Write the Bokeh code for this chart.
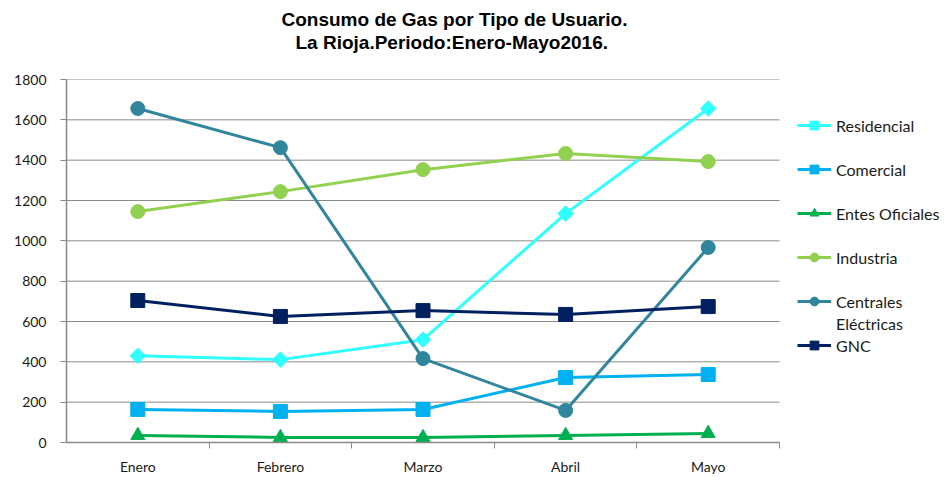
import math
from bokeh.plotting import figure
from bokeh.models import Legend, LegendItem, Title, FixedTicker, Range1d
from bokeh.embed import file_html
from bokeh.resources import INLINE

months = ["Enero", "Febrero", "Marzo", "Abril", "Mayo"]
residencial = [430, 411, 510, 1135, 1656]
comercial = [164, 154, 164, 322, 337]
entes = [35, 25, 25, 35, 45]
industria = [1145, 1244, 1353, 1433, 1393]
centrales = [1656, 1462, 416, 159, 967]
gnc = [704, 625, 654, 635, 674]
y_ticks = list(range(0, 1801, 200))

x = list(range(1, len(months) + 1))
x_start, x_end = 0.5, len(months) + 0.5

# layout (pixels): the category area is 713 px wide, the frame runs on to the
# right edge so that the legend can sit inside it
W, H, LEFT, TOP, BOTTOM = 950, 477, 66, 79, 35
CAT_PX = 713
view_end = x_start + (x_end - x_start) * (W - LEFT) / CAT_PX

p = figure(width=W, height=H, output_backend="svg", toolbar_location=None,
           x_range=Range1d(x_start, view_end), y_range=Range1d(0, 1800),
           min_border_left=LEFT, min_border_right=0, min_border_top=TOP,
           min_border_bottom=BOTTOM, background_fill_color="white",
           border_fill_color="white", outline_line_color=None)

GRAY = "#898989"
FONT = "Lato"

# titles; a blank spacer title (added first, so nearest the frame) keeps them up
p.title.text = "Consumo de Gas por Tipo de Usuario."
p.title.text_font = "Liberation Sans"
p.title.text_font_style = "bold"
p.title.text_font_size = "19px"
p.title.text_color = "black"
p.title.align = "left"
p.title.offset = 215
p.title.standoff = 0
spacer = Title(text=" ", text_font_size="1px", standoff=24)
p.add_layout(spacer, "above")
t2 = Title(text="La Rioja.Periodo:Enero-Mayo2016.", text_font="Liberation Sans",
           text_font_style="bold", text_font_size="19px", text_color="black",
           align="left", offset=229, standoff=0)
p.add_layout(t2, "above")

# axes
p.xaxis.ticker = FixedTicker(ticks=x, minor_ticks=[v + 0.5 for v in x])
p.xaxis.major_label_overrides = {v: m for v, m in zip(x, months)}
p.xaxis.bounds = (x_start, x_end)
p.xaxis.major_tick_line_color = None
p.xaxis.major_tick_out = 0
p.xaxis.minor_tick_out = 6
p.xaxis.minor_tick_in = 0
p.xaxis.minor_tick_line_color = GRAY
p.xaxis.major_label_standoff = 9
p.yaxis.ticker = FixedTicker(ticks=y_ticks)
p.yaxis.minor_tick_line_color = None
p.yaxis.major_tick_out = 6
p.yaxis.major_tick_in = 0
p.yaxis.major_tick_line_color = GRAY
p.yaxis.major_label_standoff = 14
for ax in (p.xaxis, p.yaxis):
    ax.axis_line_color = GRAY
    ax.axis_line_width = 1.5
    ax.major_label_text_font = FONT
    ax.major_label_text_font_size = "14px"
    ax.major_label_text_color = "#1a1a1a"

# horizontal gridlines only across the category area
p.xgrid.grid_line_color = None
p.ygrid.grid_line_color = None
gy = y_ticks[1:]
p.segment(x0=[x_start] * len(gy), x1=[x_end] * len(gy), y0=gy, y1=gy,
          line_color=GRAY, line_width=1)

LW = 3
c_res, c_com, c_ent, c_ind, c_cen, c_gnc = "#2FFFFF", "#00B0F0", "#00B050", "#92D050", "#31859C", "#002060"

r_res = [p.line(x, residencial, color=c_res, line_width=LW),
         p.scatter(x, residencial, marker="square", angle=math.pi / 4, size=11, color=c_res)]
r_com = [p.line(x, comercial, color=c_com, line_width=LW),
         p.scatter(x, comercial, marker="square", size=14, color=c_com)]
r_ent = [p.line(x, entes, color=c_ent, line_width=LW),
         p.scatter(x, entes, marker="triangle", size=14, color=c_ent)]
r_ind = [p.line(x, industria, color=c_ind, line_width=LW),
         p.scatter(x, industria, marker="circle", size=14, color=c_ind)]
r_cen = [p.line(x, centrales, color=c_cen, line_width=LW),
         p.scatter(x, centrales, marker="circle", size=14, color=c_cen)]
r_gnc = [p.line(x, gnc, color=c_gnc, line_width=LW),
         p.scatter(x, gnc, marker="square", size=14, color=c_gnc)]
r_blank = p.line(x, centrales, line_alpha=0)


def gap():
    return LegendItem(label=" ", renderers=[r_blank])


legend = Legend(items=[LegendItem(label="Residencial", renderers=r_res), gap(),
                       LegendItem(label="Comercial", renderers=r_com), gap(),
                       LegendItem(label="Entes Oficiales", renderers=r_ent), gap(),
                       LegendItem(label="Industria", renderers=r_ind), gap(),
                       LegendItem(label="Centrales", renderers=r_cen),
                       LegendItem(label="Eléctricas", renderers=[r_blank]),
                       LegendItem(label="GNC", renderers=r_gnc)],
                location=(731, 86), ncols=1)
legend.border_line_color = None
legend.background_fill_alpha = 0
legend.padding = 0
legend.margin = 0
legend.glyph_width = 34
legend.glyph_height = 22
legend.label_height = 22
legend.spacing = 0
legend.label_standoff = 5
legend.label_text_font = FONT
legend.label_text_font_size = "16px"
legend.label_text_color = "#1a1a1a"
p.add_layout(legend, "center")

open("out.html", "w").write(file_html(p, INLINE))
